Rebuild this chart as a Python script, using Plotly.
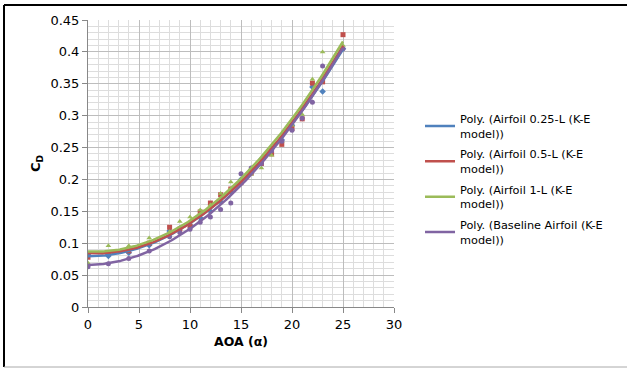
import numpy as np
import plotly.graph_objects as go

aoa = [0, 2, 4, 6, 8, 9, 10, 11, 12, 13, 14, 15, 16, 17, 18, 19, 20, 21, 22, 23, 25]

cd_025 = [0.082, 0.080, 0.085, 0.097, 0.119, 0.123, 0.128, 0.140, 0.150, 0.165, 0.180,
          0.200, 0.215, 0.232, 0.248, 0.262, 0.285, 0.313, 0.345, 0.338, 0.405]
cd_05 = [0.078, 0.084, 0.088, 0.100, 0.125, 0.122, 0.127, 0.149, 0.163, 0.176, 0.185,
         0.195, 0.210, 0.225, 0.240, 0.255, 0.280, 0.295, 0.351, 0.353, 0.427]
cd_1 = [0.069, 0.096, 0.096, 0.108, 0.118, 0.134, 0.141, 0.152, 0.160, 0.178, 0.196,
        0.200, 0.208, 0.218, 0.238, 0.260, 0.285, 0.302, 0.357, 0.400, 0.410]
cd_base = [0.063, 0.068, 0.076, 0.088, 0.110, 0.117, 0.122, 0.133, 0.141, 0.153, 0.163,
           0.209, 0.218, 0.225, 0.245, 0.260, 0.277, 0.296, 0.321, 0.378, 0.405]

names = ["Poly. (Airfoil 0.25-L (K-E<br>model))",
         "Poly. (Airfoil 0.5-L (K-E<br>model))",
         "Poly. (Airfoil 1-L (K-E<br>model))",
         "Poly. (Baseline Airfoil (K-E<br>model))"]
colors = ["#4F81BD", "#C0504D", "#9BBB59", "#8064A2"]
symbols = ["diamond", "square", "triangle-up", "circle"]
series = [cd_025, cd_05, cd_1, cd_base]

fig = go.Figure()
xa = np.array(aoa, dtype=float)
xs = np.linspace(0, 25, 200)
for ys, c, s in zip(series, colors, symbols):
    fig.add_trace(go.Scatter(x=aoa, y=ys, mode="markers",
                             marker=dict(color=c, symbol=s, size=5),
                             showlegend=False, hoverinfo="skip"))
for i, (ys, c, n) in enumerate(zip(series, colors, names)):
    coef = np.polyfit(xa, np.array(ys), 2)
    fig.add_trace(go.Scatter(x=xs, y=np.polyval(coef, xs), mode="lines",
                             line=dict(color=c, width=2.5), name=n,
                             legendgroup=f"g{i}"))

fig.update_layout(
    width=627, height=368,
    margin=dict(l=88, r=233, t=20, b=61),
    paper_bgcolor="white", plot_bgcolor="white",
    font=dict(family="DejaVu Sans, sans-serif", size=12, color="#000"),
    showlegend=True,
    legend=dict(x=1.085, y=0.445, xanchor="left", yanchor="middle",
                font=dict(size=11.3, family="DejaVu Sans"), tracegroupgap=3,
                itemwidth=30, bgcolor="rgba(0,0,0,0)"),
    xaxis=dict(range=[0, 30], dtick=5, tick0=0,
               showgrid=True, gridcolor="#BDBDBD", gridwidth=1,
               minor=dict(dtick=1, showgrid=True, gridcolor="#DDDDDD", gridwidth=1),
               showline=True, linecolor="#888", ticks="outside", ticklen=5,
               tickcolor="#888", zeroline=False,
               title=dict(text="<b>AOA (α)</b>", font=dict(size=12.5), standoff=6),
               tickfont=dict(size=13)),
    yaxis=dict(range=[0, 0.45], dtick=0.05, tick0=0,
               showgrid=True, gridcolor="#BDBDBD", gridwidth=1,
               minor=dict(dtick=0.01, showgrid=True, gridcolor="#DDDDDD", gridwidth=1),
               showline=True, linecolor="#888", ticks="outside", ticklen=5,
               tickcolor="#888", zeroline=False,
               title=dict(text="<b>C<sub>D</sub></b>", font=dict(size=13), standoff=6),
               tickfont=dict(size=13)),
)

# chart frame
W, L, B, H = 306.0, 88.0, 307.0, 287.0
def px(xp):
    return (xp - L) / W
def py(yp):
    return (B - yp) / H
fig.add_shape(type="line", xref="paper", yref="paper", x0=px(4), x1=px(4),
              y0=py(367), y1=py(5), line=dict(color="black", width=2))
fig.add_shape(type="line", xref="paper", yref="paper", x0=px(4), x1=px(627),
              y0=py(5), y1=py(5), line=dict(color="black", width=2))
fig.add_shape(type="line", xref="paper", yref="paper", x0=px(4), x1=px(627),
              y0=py(367), y1=py(367), line=dict(color="#AAAAAA", width=1))

fig.write_html("out.html")
